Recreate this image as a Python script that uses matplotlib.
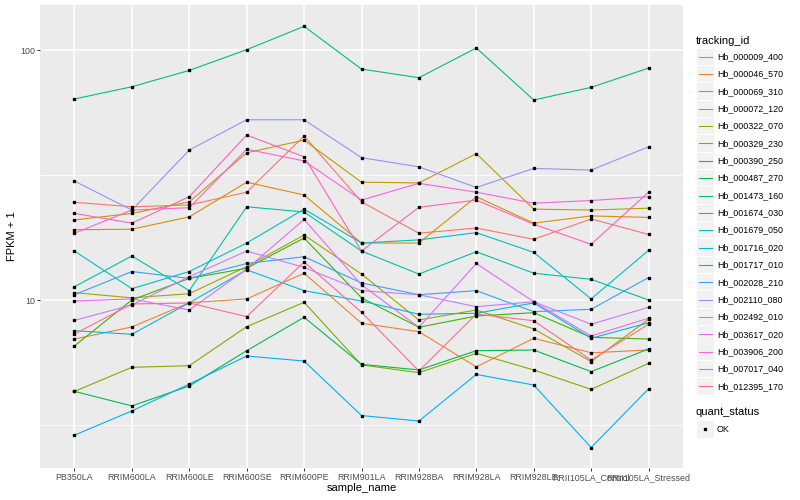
import numpy as np
import matplotlib.pyplot as plt
from matplotlib.lines import Line2D
from matplotlib.patches import Rectangle
from matplotlib.ticker import NullFormatter

plt.rcParams['font.family'] = ['Liberation Sans', 'DejaVu Sans']

samples = ['PB350LA', 'RRIM600LA', 'RRIM600LE', 'RRIM600SE', 'RRIM600PE', 'RRIM901LA',
           'RRIM928BA', 'RRIM928LA', 'RRIM928LE', 'RRII105LA_Control', 'RRII105LA_Stressed']

tracking_ids = ['Hb_000009_400', 'Hb_000046_570', 'Hb_000069_310', 'Hb_000072_120',
                'Hb_000322_070', 'Hb_000329_230', 'Hb_000390_250', 'Hb_000487_270',
                'Hb_001473_160', 'Hb_001674_030', 'Hb_001679_050', 'Hb_001716_020',
                'Hb_001717_010', 'Hb_002028_210', 'Hb_002110_080', 'Hb_002492_010',
                'Hb_003617_020', 'Hb_003906_200', 'Hb_007017_040', 'Hb_012395_170']

# ggplot hue palette, 20 levels
colors = ['#F8766D', '#EA8331', '#D89000', '#C09B00', '#A3A500', '#7CAE00', '#39B600',
          '#00BB4E', '#00BF7D', '#00C1A3', '#00BFC4', '#00BAE0', '#00B0F6', '#35A2FF',
          '#9590FF', '#C77CFF', '#E76BF3', '#FA62DB', '#FF62BC', '#FF6C91']

# FPKM + 1 per sample
hb_000009_400 = [24.6, 23.6, 24.0, 27.0, 45.3, 24.7, 18.5, 19.4, 17.5, 21.1, 18.3]
hb_000046_570 = [6.98, 7.80, 9.75, 10.1, 12.8, 8.07, 7.47, 5.40, 7.03, 6.15, 6.31]
hb_000069_310 = [19.1, 19.2, 21.5, 29.6, 26.3, 16.9, 16.9, 25.9, 20.3, 21.7, 21.4]
hb_000072_120 = [20.9, 22.2, 24.7, 38.8, 43.6, 29.6, 29.4, 38.5, 23.1, 22.9, 23.3]
hb_000322_070 = [10.7, 10.2, 10.6, 13.6, 18.2, 12.7, 8.32, 9.12, 7.66, 5.67, 8.37]
hb_000329_230 = [4.31, 5.38, 5.46, 7.82, 9.79, 5.50, 5.12, 6.12, 5.25, 4.39, 5.58]
hb_000390_250 = [6.55, 10.0, 12.2, 13.4, 17.7, 10.2, 7.78, 8.63, 8.90, 7.09, 6.98]
hb_000487_270 = [4.31, 3.77, 4.53, 6.27, 8.53, 5.53, 5.25, 6.27, 6.31, 5.17, 6.37]
hb_001473_160 = [63.7, 71.3, 82.9, 100.3, 124.4, 83.9, 77.5, 101.9, 63.1, 70.9, 84.7]
hb_001674_030 = [11.3, 15.0, 10.9, 23.6, 22.5, 15.7, 12.7, 15.6, 12.8, 12.1, 10.0]
hb_001679_050 = [15.7, 11.1, 13.0, 16.9, 23.1, 16.9, 17.4, 18.6, 15.5, 10.1, 15.8]
hb_001716_020 = [7.54, 7.29, 9.75, 13.2, 10.9, 9.91, 8.77, 8.85, 9.73, 7.03, 8.11]
hb_001717_010 = [2.88, 3.60, 4.61, 5.97, 5.70, 3.45, 3.28, 5.04, 4.57, 2.57, 4.41]
hb_002028_210 = [10.5, 13.0, 12.2, 14.0, 14.9, 11.7, 10.5, 10.9, 8.98, 9.18, 12.3]
hb_002110_080 = [29.9, 22.9, 39.8, 52.6, 52.6, 37.1, 34.1, 28.2, 33.6, 33.1, 41.0]
hb_002492_010 = [8.29, 9.55, 12.4, 15.7, 13.5, 10.9, 10.5, 9.40, 9.84, 8.00, 9.35]
hb_003617_020 = [9.91, 10.1, 9.12, 13.3, 21.0, 11.5, 7.78, 14.0, 9.84, 7.18, 8.45]
hb_003906_200 = [18.5, 22.9, 23.4, 40.1, 36.0, 25.1, 29.3, 27.0, 24.4, 25.0, 25.9]
hb_007017_040 = [22.2, 20.3, 25.9, 45.7, 37.4, 15.7, 23.5, 25.1, 20.1, 16.7, 27.0]
hb_012395_170 = [7.31, 9.64, 9.73, 8.58, 14.2, 8.93, 5.20, 8.79, 8.26, 5.75, 8.00]

series = [hb_000009_400, hb_000046_570, hb_000069_310, hb_000072_120, hb_000322_070,
          hb_000329_230, hb_000390_250, hb_000487_270, hb_001473_160, hb_001674_030,
          hb_001679_050, hb_001716_020, hb_001717_010, hb_002028_210, hb_002110_080,
          hb_002492_010, hb_003617_020, hb_003906_200, hb_007017_040, hb_012395_170]

W, H = 800, 500


def fx(x):
    return x / W


def fy(y):
    return 1 - y / H


fig = plt.figure(figsize=(8, 5), dpi=100)
ax = fig.add_axes([fx(40), fy(468), 643 / W, 463 / H])
ax.set_facecolor('#EBEBEB')
for s in ax.spines.values():
    s.set_visible(False)

x = np.arange(len(samples))
for vals, c in zip(series, colors):
    ax.plot(x, vals, color=c, lw=0.8, zorder=2)
for vals in series:
    ax.plot(x, vals, ls='none', marker='s', ms=2.0, color='black', zorder=3)

ax.set_yscale('log')
ax.set_ylim(2.128, 151.4)
ax.set_xlim(-0.6, 10.6)
ax.set_yticks([10, 100])
ax.set_yticklabels(['10', '100'])
ax.set_yticks([10 ** 0.5, 10 ** 1.5], minor=True)
ax.yaxis.set_minor_formatter(NullFormatter())
ax.set_xticks(x)
ax.set_xticklabels(samples)
ax.set_axisbelow(True)
ax.grid(which='major', color='white', lw=1.1)
ax.grid(which='minor', axis='y', color='white', lw=0.55)
ax.tick_params(which='major', length=2, width=0.7, color='#333333',
               labelsize=6.4, labelcolor='#4D4D4D', pad=1.5)
ax.tick_params(which='minor', length=0)

fig.text(fx(362), fy(488), 'sample_name', ha='center', va='center', fontsize=8)
fig.text(fx(12), fy(236), 'FPKM + 1', ha='center', va='center', fontsize=8, rotation=90)

# legend: tracking_id
fig.text(fx(696), fy(40.7), 'tracking_id', ha='left', va='center', fontsize=8)
for i, (name, c) in enumerate(zip(tracking_ids, colors)):
    yc = 56.7 + 17.35 * i
    fig.add_artist(Rectangle((fx(697), fy(yc + 8.2)), 16.5 / W, 16.4 / H,
                             transform=fig.transFigure, facecolor='#F2F2F2', edgecolor='none'))
    fig.add_artist(Line2D([fx(699), fx(712)], [fy(yc), fy(yc)], color=c, lw=0.8,
                          transform=fig.transFigure))
    fig.text(fx(717), fy(yc), name, ha='left', va='center', fontsize=6.4)

# legend: quant_status
fig.text(fx(696), fy(412), 'quant_status', ha='left', va='center', fontsize=8)
fig.add_artist(Rectangle((fx(697), fy(437.5)), 16.5 / W, 16.4 / H,
                         transform=fig.transFigure, facecolor='#F2F2F2', edgecolor='none'))
fig.add_artist(Line2D([fx(705)], [fy(429.3)], ls='none', marker='s', ms=2.0, color='black',
                      transform=fig.transFigure))
fig.text(fx(717), fy(429.3), 'OK', ha='left', va='center', fontsize=6.4)

fig.savefig('out.png', dpi=100)
